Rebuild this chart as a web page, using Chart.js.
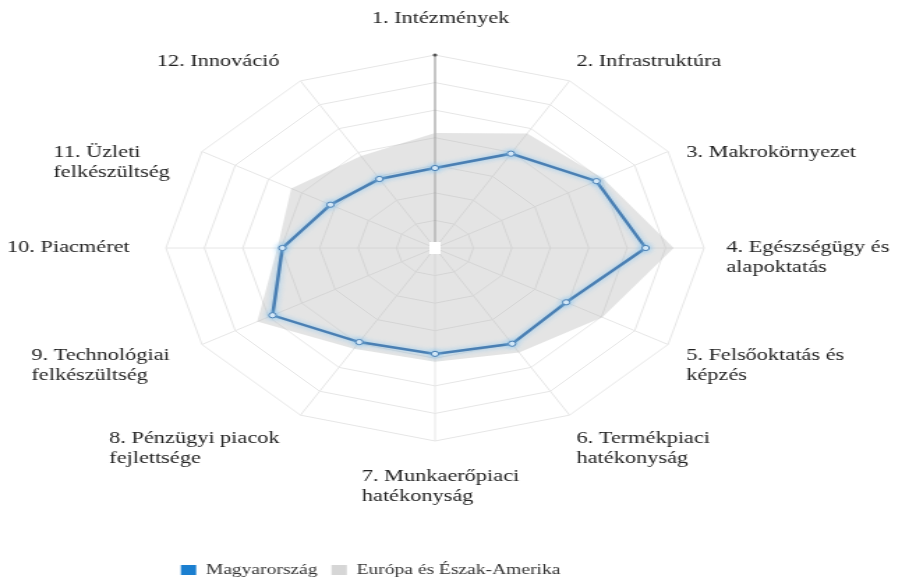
<!DOCTYPE html>
<html>
<head>
<meta charset="utf-8">
<script src="https://cdn.jsdelivr.net/npm/chart.js@4.4.1/dist/chart.umd.min.js"></script>
<style>
  html, body { margin: 0; padding: 0; background: #ffffff; }
  #wrap { position: relative; width: 909px; height: 586px; overflow: hidden; background: #fff; }
  #c { position: absolute; left: 0; top: -57px; width: 909px !important; height: 644px !important; }
</style>
</head>
<body>
<div id="wrap"><canvas id="c" width="652" height="644"></canvas></div>
<script>
// ---- data ----
const axisLabels = [
  ["1. Intézmények"],
  ["2. Infrastruktúra"],
  ["3. Makrokörnyezet"],
  ["4. Egészségügy és", "alapoktatás"],
  ["5. Felsőoktatás és", "képzés"],
  ["6. Termékpiaci", "hatékonyság"],
  ["7. Munkaerőpiaci", "hatékonyság"],
  ["8. Pénzügyi piacok", "fejlettsége"],
  ["9. Technológiai", "felkészültség"],
  ["10. Piacméret"],
  ["11. Üzleti", "felkészültség"],
  ["12. Innováció"]
];
const seriesNames = ["Magyarország", "Európa és Észak-Amerika"];
const hungary = [2.90, 3.95, 4.85, 5.48, 3.94, 4.01, 3.84, 3.94, 4.88, 3.97, 3.14, 2.89];
const europeNA = [4.17, 4.80, 5.05, 6.21, 5.03, 4.38, 4.13, 4.22, 5.34, 4.10, 4.32, 3.85];
const scaleMin = 0;
const scaleMax = 7;
const scaleStep = 1;

// ---- plugins ----
const glowPlugin = {
  id: 'glow',
  beforeDatasetDraw(chart, args) {
    if (args.index === 0) {
      chart.ctx.save();
      chart.ctx.shadowColor = 'rgba(130,195,240,0.95)';
      chart.ctx.shadowBlur = 5;
    }
  },
  afterDatasetDraw(chart, args) {
    if (args.index === 0) chart.ctx.restore();
  }
};

const labelPlugin = {
  id: 'axisLabelBlocks',
  afterDatasetsDraw(chart) {
    const s = chart.scales.r;
    const ctx = chart.ctx;
    ctx.save();
    // white centre marker
    ctx.fillStyle = '#ffffff';
    ctx.fillRect(s.xCenter - 4, s.yCenter - 6, 8, 12);
    // dot at the end of the first axis
    const tip = s.getPointPosition(0, s.drawingArea);
    ctx.fillStyle = '#555';
    ctx.beginPath();
    ctx.arc(tip.x, tip.y, 1.6, 0, Math.PI * 2);
    ctx.fill();

    ctx.font = '16px "Liberation Serif", "Times New Roman", serif';
    ctx.fillStyle = '#222222';
    ctx.textBaseline = 'middle';
    ctx.textAlign = 'left';
    const lh = 20;
    axisLabels.forEach((lines, i) => {
      const p = s.getPointPosition(i, s.drawingArea + 22);
      const dx = Math.cos(p.angle), dy = Math.sin(p.angle);
      const bw = Math.max(...lines.map(t => ctx.measureText(t).width));
      let x0, y0;
      if (Math.abs(dx) < 0.05) {
        x0 = p.x - bw / 2 + 4;
        y0 = dy < 0 ? p.y - 14 - (lines.length - 1) * lh : p.y + 14;
      } else {
        x0 = dx > 0 ? p.x - 6 : p.x - bw - 4;
        y0 = p.y;
        if (dy < -0.3 && dy > -0.7) y0 += 12;
        if (dy > 0.7) y0 += 5;
      }
      lines.forEach((t, k) => ctx.fillText(t, x0, y0 + k * lh));
    });
    ctx.restore();
  }
};

const ctx = document.getElementById('c').getContext('2d');
new Chart(ctx, {
  type: 'radar',
  data: {
    labels: axisLabels,
    datasets: [
      {
        label: seriesNames[0],
        data: hungary,
        borderColor: '#4a7fb3',
        borderWidth: 2.5,
        backgroundColor: 'rgba(0,0,0,0)',
        fill: false,
        pointRadius: 2.6,
        pointBorderWidth: 1,
        pointBorderColor: '#4a7fb3',
        pointBackgroundColor: '#e6f1fa',
        tension: 0
      },
      {
        label: seriesNames[1],
        data: europeNA,
        borderWidth: 0,
        borderColor: 'rgba(0,0,0,0)',
        backgroundColor: 'rgba(185,185,185,0.38)',
        fill: true,
        pointRadius: 0
      }
    ]
  },
  options: {
    responsive: false,
    animation: false,
    devicePixelRatio: 1,
    layout: { padding: { left: 119.7, right: 146.3, top: 0, bottom: 0 } },
    scales: {
      r: {
        min: scaleMin,
        max: scaleMax,
        ticks: { display: false, stepSize: scaleStep },
        grid: { color: '#e6e6e6', lineWidth: 1 },
        angleLines: { color: (c) => c.index === 0 ? '#8c8c8c' : '#e6e6e6', lineWidth: 1 },
        pointLabels: { display: false }
      }
    },
    plugins: {
      tooltip: { enabled: false },
      legend: {
        position: 'bottom',
        align: 'start',
        labels: {
          boxWidth: 11,
          boxHeight: 10,
          padding: 10,
          color: '#333333',
          font: { family: '"Liberation Serif", "Times New Roman", serif', size: 14 },
          generateLabels: (chart) => chart.data.datasets.map((ds, i) => ({
            text: ds.label,
            fillStyle: i === 0 ? '#1b7fd0' : '#d6d6d6',
            strokeStyle: i === 0 ? '#1b7fd0' : '#d6d6d6',
            lineWidth: 0,
            hidden: false,
            datasetIndex: i,
            fontColor: '#333333'
          }))
        }
      }
    }
  },
  plugins: [glowPlugin, labelPlugin]
});
</script>
</body>
</html>
